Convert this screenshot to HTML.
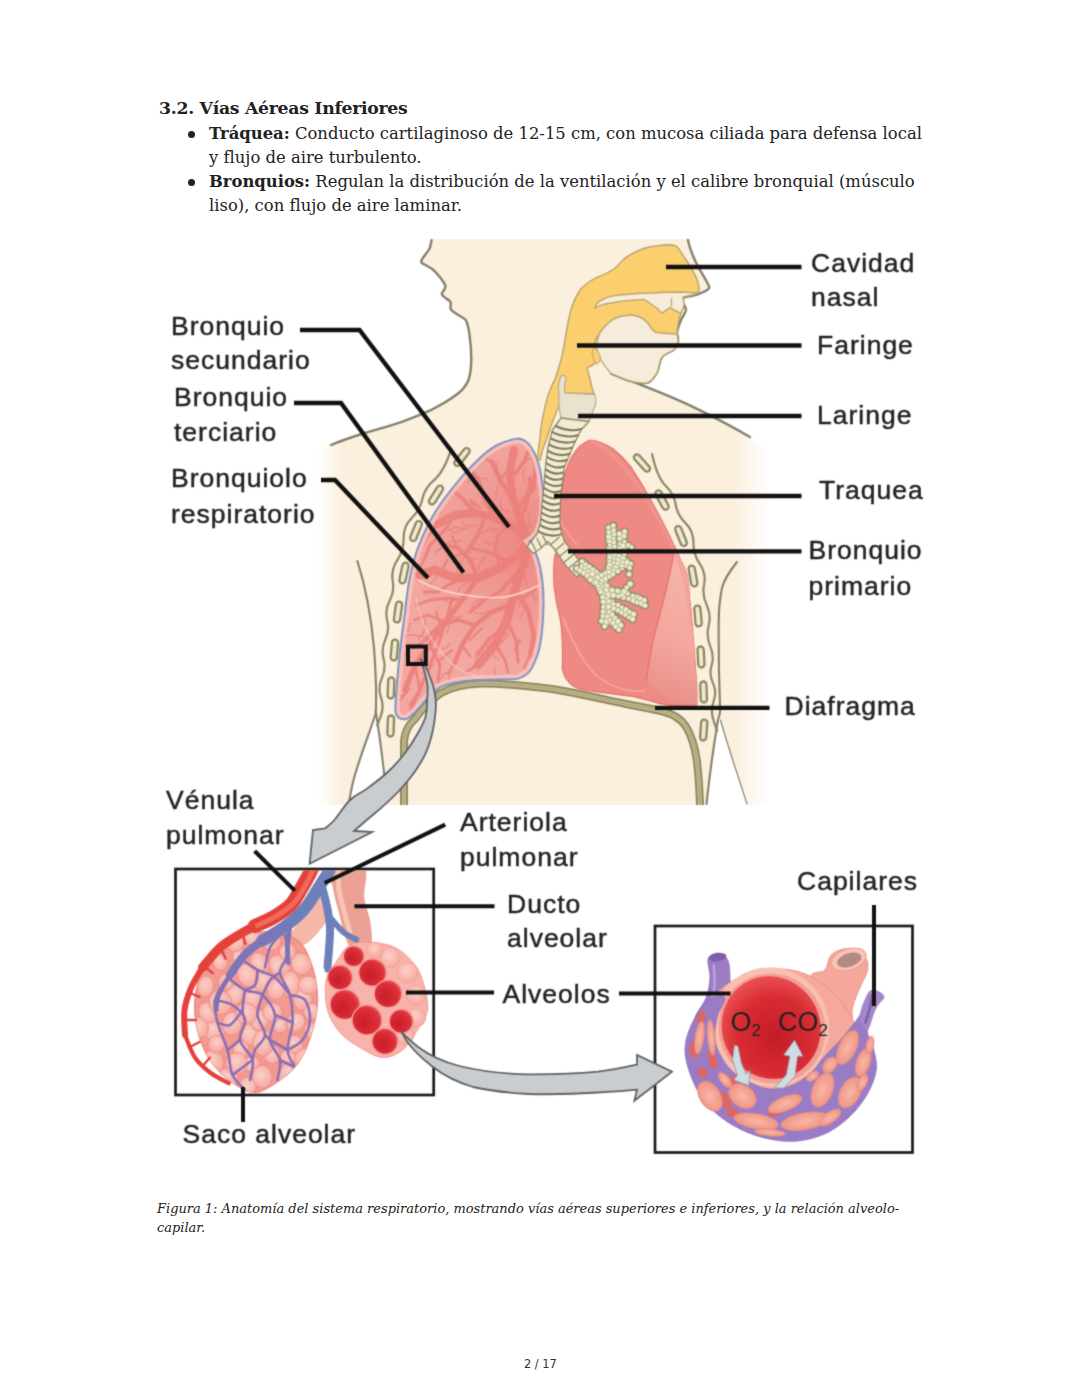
<!DOCTYPE html>
<html lang="es">
<head>
<meta charset="utf-8">
<title>3.2. Vías Aéreas Inferiores</title>
<style>
html,body{margin:0;padding:0;background:#fff;}
body{width:1080px;height:1397px;position:relative;overflow:hidden;font-family:"DejaVu Serif","Liberation Serif",serif;color:#222;}
.t{position:absolute;white-space:nowrap;margin:0;}
h2.t{font-size:17.3px;font-weight:bold;left:159px;top:96px;line-height:24px;letter-spacing:-0.3px;}
.li{font-size:16.4px;line-height:24px;}
.bul{position:absolute;width:7px;height:7px;border-radius:50%;background:#222;}
.cap{font-size:12.97px;font-style:italic;line-height:19px;}
.pn{font-family:"DejaVu Sans","Liberation Sans",sans-serif;font-size:11.4px;color:#333;}
#fig{position:absolute;left:0;top:0;}
#fig text{font-family:"Liberation Sans",sans-serif;fill:#222;}
</style>
</head>
<body>
<h2 class="t">3.2. Vías Aéreas Inferiores</h2>
<span class="bul" style="left:188.3px;top:130.8px"></span>
<p class="t li" style="left:209px;top:122px"><b>Tráquea:</b> Conducto cartilaginoso de 12-15 cm, con mucosa ciliada para defensa local</p>
<p class="t li" style="left:209px;top:146px">y flujo de aire turbulento.</p>
<span class="bul" style="left:188.3px;top:178.6px"></span>
<p class="t li" style="left:209px;top:170px"><b>Bronquios:</b> Regulan la distribución de la ventilación y el calibre bronquial (músculo</p>
<p class="t li" style="left:209px;top:194px">liso), con flujo de aire laminar.</p>

<svg id="fig" width="1080" height="1397" viewBox="0 0 1080 1397">
<defs>
<linearGradient id="gBody" gradientUnits="userSpaceOnUse" x1="318" y1="0" x2="770" y2="0">
<stop offset="0" stop-color="#ffffff"/><stop offset="0.055" stop-color="#fbefde"/><stop offset="0.92" stop-color="#fbefde"/><stop offset="1" stop-color="#ffffff"/>
</linearGradient>
<filter id="fBlur" x="0" y="0" width="1080" height="1397" filterUnits="userSpaceOnUse" color-interpolation-filters="sRGB"><feConvolveMatrix order="3" kernelMatrix="1 4 1 4 16 4 1 4 1" divisor="36" edgeMode="duplicate" preserveAlpha="false"/></filter>
</defs>
<g filter="url(#fBlur)">
<!--BODY-->
<g id="body">
<!-- beige body silhouette with faded sides -->
<path fill="url(#gBody)" d="M431.5,239 C431,243 430.5,246 429.6,248.5 C427,253 423,257 421.3,260.6 C421,263 422.5,264 424,264.3 C427,266 430.5,267.5 433.3,269.8 C438,274.5 443,280 445.4,285.6 C446,289 442.5,291 441.7,293.9 C443,297.5 448,299 450,301.3 C452,304 449.5,307 450.9,309.6 C454.5,314 461.5,316 465.7,319.8 C468,324 468.7,329 469.4,333.7 C470.6,342 471.3,351 471.3,359.6 C471.2,367 470.5,374 468.5,380 C466,386 462,390.5 457.4,394 C449,400.5 439,406 429.6,410.7 C420,415 411,418.5 401.9,421.9 C390,426 377,429.5 364.8,433 C352,437 340,441.5 327.8,446 L314,451 V805 H776 V452 L761.5,445 C757,442 753,439.5 750,437 C733,427 714,417 695,407.8 C667,394 639,384 611,373.3 C618,376.5 626,380 633,381.7 C638,383 643.5,383.6 648,382.6 C652.5,380 655.5,375.5 657.4,371.5 C659,367 659.5,362.5 661,358.5 C663.5,354.5 668,352.5 672,351 C675,349.5 677.5,345 678,341 C678.5,338 677.5,335.5 677,333.7 C677,329 679.5,324.5 680.7,320.7 C682,316.5 686,313.5 686,309.6 C685.5,306 682.5,303 682.6,300 C683,297.8 685,297.2 686,296.7 C691,296 697,295.5 701,293 C705,291.5 709,290 709.4,287.4 C707,281 703,275.5 699.7,269.5 C695,261 690,251 688,240 V239 Z"/>
<!-- outlines -->
<g fill="none" stroke="#858069" stroke-width="2.4" stroke-linecap="round" stroke-linejoin="round">
<path d="M431.5,240.2 C431,243 430.5,246 429.6,248.5 C427,253 423,257 421.3,260.6 C421,263 422.5,264 424,264.3 C427,266 430.5,267.5 433.3,269.8 C438,274.5 443,280 445.4,285.6 C446,289 442.5,291 441.7,293.9 C443,297.5 448,299 450,301.3 C452,304 449.5,307 450.9,309.6 C454.5,314 461.5,316 465.7,319.8 C468,324 468.7,329 469.4,333.7 C470.6,342 471.3,351 471.3,359.6 C471.2,367 470.5,374 468.5,380 C466,386 462,390.5 457.4,394 C449,400.5 439,406 429.6,410.7 C420,415 411,418.5 401.9,421.9 C390,426 377,429.5 364.8,433 C352,437 342,440.5 331,445"/>
<path d="M688,240 C690,251 695,261 699.7,269.5 C703,275.5 707,281 709.4,287.4 C709,290 705,291.5 701,293 C697,295.5 691,296 686,296.7 C685,297.2 683,297.8 682.6,300 C682.5,303 685.5,306 686,309.6 C686,313.5 682,316.5 680.7,320.7 C679.5,324.5 677,329 677,333.7 C677.5,335.5 678.5,338 678,341 C677.5,345 675,349.5 672,351 C668,352.5 663.5,354.5 661,358.5 C659.5,362.5 659,367 657.4,371.5 C655.5,375.5 652.5,380 648,382.6 C643.5,383.6 638,383 633,381.7 C626,380 618,376.5 611,373.3 C639,384 667,394 695,407.8 C714,417 733,427 750,437"/>
</g>
</g>

<!--/BODY-->
<!--ANATOMY-->
<g id="anat">
<!-- arm/side lines and white gaps -->
<path d="M375.6,712 C368,735 358,760 353,780 C351,790 349.5,798 349,805 H386 C387.5,795 387,785 386.4,775.6 C385,760 382.5,745 380,733 Z" fill="#fff"/>
<path d="M718,715 L706,805 H748 C740,780 728,745 718,715 Z" fill="#fff"/>
<g fill="none" stroke="#858069" stroke-width="2.1" stroke-linecap="round">
<path d="M357.4,561 C365,585 371,615 374,648 C376,675 376.5,700 375.6,714 C368,737 358,762 353,782 C351,791 349.5,798 349,804"/>
<path d="M375.6,711 C377,719 378,726 379,733 C381,747 383,762 384.4,775.6"/>
<path d="M737,562 C729,572 724,580 722,588 C719.5,600 718.7,612 718.7,622.6 C718.5,650 719,680 720,706 C721,712 719.5,716 718,720 C713,750 709,780 706.5,804"/>
<path d="M720.5,720 C726,740 736,770 747,804" stroke-width="1.2"/>
</g>
<!-- diaphragm band -->
<path d="M404,805 V741 C405,731 409,724 415,719 C422,709 431,700 441,693 C452,687 465,684 478,683.7 C503,683 528,686 552,689 C577,693 602,699 626,704 C639,706.5 651,708.5 663,711.5 C673,714 681,719 685.6,726 C692,736 695,748 696.7,759.6 C698.5,774 699.5,789 700,805" fill="none" stroke="#8f8960" stroke-width="8" stroke-linejoin="round"/>
<path d="M404,805 V741 C405,731 409,724 415,719 C422,709 431,700 441,693 C452,687 465,684 478,683.7 C503,683 528,686 552,689 C577,693 602,699 626,704 C639,706.5 651,708.5 663,711.5 C673,714 681,719 685.6,726 C692,736 695,748 696.7,759.6 C698.5,774 699.5,789 700,805" fill="none" stroke="#c2ba8e" stroke-width="4" stroke-linejoin="round"/>
<path d="M404,805 V741 C405,731 409,724 415,719 C422,709 431,700 441,693 C452,687 465,684 478,683.7 C503,683 528,686 552,689 C577,693 602,699 626,704 C639,706.5 651,708.5 663,711.5 C673,714 681,719 685.6,726 C692,736 695,748 696.7,759.6 C698.5,774 699.5,789 700,805" fill="none" stroke="#a59e72" stroke-width="1"/>
<!--RIBS-->
<g fill="#f1e9cd" stroke="#8e8863" stroke-width="2.3"><rect x="-3.1" y="-10.5" width="6.2" height="21" rx="3.1" transform="translate(462,457) rotate(38)"/><rect x="-3.1" y="-10.5" width="6.2" height="21" rx="3.1" transform="translate(436,495) rotate(32)"/><rect x="-3.1" y="-10.5" width="6.2" height="21" rx="3.1" transform="translate(416,531) rotate(22)"/><rect x="-3.1" y="-10.5" width="6.2" height="21" rx="3.1" transform="translate(404,573) rotate(12)"/><rect x="-3.1" y="-10.5" width="6.2" height="21" rx="3.1" transform="translate(398,612) rotate(8)"/><rect x="-3.1" y="-10.5" width="6.2" height="21" rx="3.1" transform="translate(394.4,650) rotate(5)"/><rect x="-3.1" y="-10.5" width="6.2" height="21" rx="3.1" transform="translate(391,688) rotate(2)"/><rect x="-3.1" y="-10.5" width="6.2" height="21" rx="3.1" transform="translate(390.7,726) rotate(2)"/><rect x="-3.1" y="-10.5" width="6.2" height="21" rx="3.1" transform="translate(642,463) rotate(-42)"/><rect x="-3.1" y="-10.5" width="6.2" height="21" rx="3.1" transform="translate(662,500) rotate(-28)"/><rect x="-3.1" y="-10.5" width="6.2" height="21" rx="3.1" transform="translate(681,536) rotate(-22)"/><rect x="-3.1" y="-10.5" width="6.2" height="21" rx="3.1" transform="translate(693,576) rotate(-10)"/><rect x="-3.1" y="-10.5" width="6.2" height="21" rx="3.1" transform="translate(698,616) rotate(-5)"/><rect x="-3.1" y="-10.5" width="6.2" height="21" rx="3.1" transform="translate(701,657) rotate(-3)"/><rect x="-3.1" y="-10.5" width="6.2" height="21" rx="3.1" transform="translate(703.6,692) rotate(-2)"/><rect x="-3.1" y="-10.5" width="6.2" height="21" rx="3.1" transform="translate(703.7,730) rotate(4)"/></g>
<path d="M451.4,448.7 Q443.7,472.3 434.1,480.1 Q424.6,487.8 422.4,498.9 Q420.2,510.0 411.8,518.0 Q403.5,525.9 403.6,538.0 Q403.8,550.1 397.3,560.1 Q390.8,570.2 392.7,580.8 Q394.6,591.4 389.6,600.7 Q384.6,610.1 387.2,620.2 Q389.7,630.3 385.3,639.5 Q381.0,648.8 383.6,658.7 Q386.2,668.6 381.9,678.1 Q377.5,687.5 380.9,697.2 Q384.4,706.8 380.8,716.2 L377.2,725.5" fill="none" stroke="#8e8863" stroke-width="2.2" stroke-linecap="round"/>
<path d="M652.0,454.0 Q657.3,477.8 665.6,485.7 Q673.9,493.7 675.7,504.5 Q677.4,515.3 685.5,523.1 Q693.5,530.9 693.4,542.6 Q693.2,554.2 699.8,563.9 Q706.3,573.7 704.1,584.4 Q701.9,595.2 706.7,605.0 Q711.4,614.8 708.7,625.4 Q706.0,636.0 710.2,646.2 Q714.5,656.3 711.6,665.3 Q708.8,674.2 712.9,682.9 Q717.1,691.5 713.6,701.3 Q710.1,711.1 713.7,721.0 L717.2,730.9" fill="none" stroke="#8e8863" stroke-width="2.2" stroke-linecap="round"/>
<!--/RIBS-->
<!--LUNGS-->
<defs>
<clipPath id="cpRL"><path id="pRL" d="M518.8,438.6 C511,439.5 504,441.5 497.3,445 C489,449.5 482,455.5 475.9,462 C468,469.5 461,477.5 454.4,485.8 C446,495.5 439,505.5 432.9,515.9 C427,526 422,537 417.9,548 C414,558.5 411.5,569 409.3,580 C407.5,591 406,601.5 405,612.4 C403.5,623 402,634 400.7,644.6 C399.5,655 398.5,666 397.5,676.8 C396.5,687.5 395.6,698 395.4,709 C395.3,713 396.5,716 398.6,717.6 C401.5,719.3 404.5,719.5 407.2,718.7 C412,716 416,711.5 420,706.9 C426,699.5 432.5,693 439.4,687.6 C450,682.5 463,680.6 475.9,680 C489,679.3 503,679.5 516.6,679 C523.5,677.5 528.5,673.5 531.7,668.2 C535.5,661 538.5,653 540.2,644.6 C542.5,630.5 543.5,616 543.5,601.7 C543.6,590 542.5,578.5 540.2,567.4 C538,557.5 534.5,548.5 529.5,541.6 C533,539.5 536,536.5 538.1,533 C541,526.5 542.8,519 543.5,511.6 C544.2,502.5 543.8,493 542.4,483.7 C541.5,476 540.2,469 538.1,462.2 C536,455.5 533,449.5 529.5,445 C526.5,441.5 523,439.3 518.8,438.6 Z"/></clipPath>
<clipPath id="cpLL"><path id="pLL" d="M590,440 C583,443 578,447 575,452 C570.5,458 568,464 566,470 C564,475.5 563,480.5 562.6,485.6 C561,492 560.3,499 560,505 C559.7,511 559.7,517 559.8,522.6 C560,527 561,531 561.7,533.7 C561,540 558.5,546 556.5,551 C555,554 554.5,557 554.3,560 C553.5,569.5 553.5,579 554.3,588 C555.5,598.5 557.5,608.5 560,618 C561.5,627 562.2,636.5 562.4,645.7 C562.6,653.5 562.5,661.5 562.4,669 C563.5,674.5 566,679.5 569.4,682.8 C573,686.5 578,688.7 583,689.7 C600,692.5 617,694.5 634,696.7 C642.5,698.5 651,701 659.6,703.6 C672,706 684.5,706.5 696.7,706 C697.5,694 696.8,681.5 695.5,669 C694.5,653.5 693.3,638 692,622.6 C691.5,614.5 690.7,607 689.7,599.4 C689.3,591.5 688.5,583.5 687.4,576 C685.5,570 683.3,564.5 680.5,560 C678.5,555 676.3,549.5 673.7,544.8 C667.5,531 660.5,517.5 653,504 C646.5,491.5 639,479 631,467 C625.5,460 619.5,454 612.6,448.5 C606,444 598.5,441 590,440 Z"/></clipPath>
<linearGradient id="gLLobe" gradientUnits="userSpaceOnUse" x1="700" y1="570" x2="640" y2="700">
<stop offset="0" stop-color="#f6b4aa"/><stop offset="0.55" stop-color="#f3a69e"/><stop offset="1" stop-color="#e68c86"/>
</linearGradient>
<radialGradient id="gHil" gradientUnits="userSpaceOnUse" cx="525" cy="545" r="125"><stop offset="0" stop-color="#e8706c" stop-opacity="0.6"/><stop offset="0.5" stop-color="#ea7a76" stop-opacity="0.3"/><stop offset="1" stop-color="#ee8a86" stop-opacity="0"/></radialGradient>
</defs>
<!-- left lung (viewer right) -->
<use href="#pLL" fill="#ee8a83" stroke="#e2706c" stroke-width="1.2"/>
<g clip-path="url(#cpLL)">
<path d="M673.5,555 C668,585 660,615 653,640 C650,655 648,668 646,680 C652,692 670,702 700,708 V540 Z" fill="url(#gLLobe)"/>
<path d="M673.5,555 C668,585 660,615 653,640 C650,655 648,668 646,680" fill="none" stroke="#e8706c" stroke-width="1.3"/>
<path d="M563,618 C572,640 582,662 596,675 C612,688 632,694 646,690" fill="none" stroke="#f6a8a0" stroke-width="1.5"/>
<path d="M560,520 C566,532 570,538 578,545" fill="none" stroke="#f6a8a0" stroke-width="1.2"/>
<path d="M590,440 C612,450 640,478 672,545 C685,570 690,600 692,625" fill="none" stroke="#f29a92" stroke-width="4" opacity="0.6"/>
</g>
<!-- right lung (viewer left) -->
<use href="#pRL" fill="#f2a8a1"/>
<use href="#pRL" fill="url(#gHil)"/>
<g clip-path="url(#cpRL)">
<g fill="none" stroke="#ec807a" stroke-linecap="round" stroke-linejoin="round" opacity="0.9">
<path d="M529,542 L520,520 L512,495 L510,470 L514,450" stroke-width="7.9"/>
<path d="M513,500 L500,480 L492,462" stroke-width="4.7"/>
<path d="M511,478 L524,462 L528,452" stroke-width="3.9"/>
<path d="M516,510 L532,490 L536,470" stroke-width="4.7"/>
<path d="M529,542 L515,528 L495,518 L475,513 L455,515 L438,524" stroke-width="7.9"/>
<path d="M495,518 L485,500 L478,480 L470,470" stroke-width="4.7"/>
<path d="M475,513 L462,498 L452,490" stroke-width="3.9"/>
<path d="M485,516 L478,535 L468,550" stroke-width="3.9"/>
<path d="M455,515 L445,530 L430,545 L424,560" stroke-width="3.1"/>
<path d="M529,542 L518,556 L500,568 L478,578 L455,578 L435,570 L420,575" stroke-width="8.8"/>
<path d="M478,578 L470,560 L458,548 L445,545" stroke-width="3.9"/>
<path d="M500,568 L495,550 L498,535" stroke-width="3.1"/>
<path d="M529,542 L524,562 L515,590 L507,620 L495,645 L478,665" stroke-width="8.8"/>
<path d="M515,590 L528,610 L534,635 L530,655" stroke-width="4.7"/>
<path d="M507,620 L516,640 L518,662" stroke-width="3.1"/>
<path d="M510,605 L492,612 L475,625 L462,645 L455,662" stroke-width="4.7"/>
<path d="M475,625 L458,620 L440,625 L425,640" stroke-width="3.9"/>
<path d="M495,645 L505,660 L508,672" stroke-width="2.8"/>
<path d="M478,578 L462,600 L445,622 L430,645 L415,665 L405,690" stroke-width="5.4"/>
<path d="M445,622 L428,615 L414,620" stroke-width="2.8"/>
<path d="M430,645 L440,665 L438,682" stroke-width="2.8"/>
<path d="M415,665 L420,690 L412,708" stroke-width="2.8"/>
<path d="M462,600 L448,598 L430,600 L416,605" stroke-width="2.8"/>
<path d="M470,470 L462,476 M492,462 L484,458 M452,490 L446,500 M468,550 L456,556 M424,560 L418,572 M445,545 L436,552 M455,662 L448,674 M425,640 L414,648 M478,665 L466,672 M530,655 L524,668 M536,470 L532,458 M498,535 L506,528 M462,645 L470,656 M440,625 L436,612 M458,548 L452,536" stroke-width="2.2"/>

<path d="M520,520 L528,500 L530,478" stroke-width="3.5"/>
<path d="M505,560 L488,552 L470,548" stroke-width="3.2"/>
<path d="M515,575 L500,592 L484,600 L470,612" stroke-width="3.5"/>
<path d="M520,600 L535,590" stroke-width="3"/>
<path d="M500,630 L486,642 L478,655" stroke-width="3"/>
<path d="M438,524 L428,535 L420,550" stroke-width="3"/>
<path d="M460,580 L448,585 L438,592 L424,592" stroke-width="3"/>
<path d="M452,600 L440,640 L432,660 L420,690 L410,705" stroke-width="3"/>
<path d="M470,640 L482,628 M447,560 L440,575 M500,480 L508,470 M470,500 L480,508 M440,660 L452,650 M470,670 L480,660 M515,650 L520,640 M400,700 L408,690" stroke-width="2.4"/>
</g>
<!--TWIGS--><path d="M487.7,643.1 L476.2,651.8 L475.5,659.8 M509.7,511.5 L502.5,510.0 L499.9,506.9 M433.5,590.2 L427.7,592.2 L425.9,595.0 M424.2,676.6 L418.5,688.1 L419.1,695.2 M486.9,478.8 L473.1,477.6 L467.4,482.7 M536.3,489.3 L532.3,481.4 L527.8,479.5 M495.6,499.7 L497.1,487.6 L501.7,482.6 M450.0,489.3 L443.4,489.6 L440.9,487.1 M482.4,604.1 L476.8,607.6 L473.3,606.6 M467.2,529.3 L455.1,527.2 L448.9,530.1 M533.2,698.4 L535.9,707.7 L534.0,712.7 M481.3,447.4 L474.0,445.3 L469.9,446.3 M433.4,663.8 L427.5,672.6 L421.7,673.5 M413.6,644.8 L400.1,647.5 L395.2,653.2 M538.9,500.7 L541.2,491.7 L539.4,487.0 M531.1,590.6 L534.4,598.8 L538.9,600.5 M488.3,637.5 L487.6,647.9 L490.2,652.9 M484.5,691.6 L491.2,702.4 L489.2,709.1 M463.6,557.6 L456.3,569.9 L458.5,577.4 M446.1,500.3 L443.5,489.5 L438.4,486.2 M511.5,473.5 L508.8,466.6 L509.8,462.7 M463.3,711.8 L450.8,719.8 L443.1,717.2 M497.2,529.8 L487.0,530.2 L482.3,533.4 M516.4,587.0 L520.7,600.8 L518.6,608.4 M468.8,582.6 L459.6,587.7 L458.2,593.3 M509.6,630.5 L503.3,641.7 L496.6,644.0 M494.2,668.0 L496.5,682.7 L491.1,688.7 M447.0,492.7 L443.0,483.2 L444.3,477.7 M437.4,522.1 L425.6,519.6 L421.3,514.6 M490.7,642.0 L483.3,647.3 L482.7,652.3 M497.1,705.6 L488.1,711.3 L485.6,716.6 M450.1,673.0 L449.1,679.6 L446.7,682.4 M510.4,600.1 L504.8,608.1 L499.5,609.1 M402.0,487.7 L390.6,484.2 L384.9,487.4 M424.0,636.8 L409.3,634.7 L401.8,637.8 M417.2,529.7 L410.3,533.2 L408.5,537.0 M448.6,621.9 L448.4,629.7 L446.3,633.5 M456.4,519.4 L449.4,518.4 L447.4,515.1 M477.2,525.5 L466.6,526.1 L462.6,521.8 M515.9,556.9 L504.6,560.2 L498.6,557.7 M420.6,547.2 L412.8,547.9 L409.9,551.1 M448.6,683.6 L451.2,690.0 L454.4,692.1 M524.2,595.7 L524.8,610.4 L520.3,617.3 M538.0,546.4 L542.1,560.0 L538.3,566.9 M441.3,512.0 L428.8,519.4 L421.0,518.2 M439.2,572.3 L433.0,582.1 L427.2,584.7 M403.8,481.4 L393.8,478.8 L390.0,474.5 M466.3,454.8 L458.2,443.9 L458.0,436.4 M485.6,571.7 L474.8,575.5 L470.6,580.2 M416.1,520.4 L406.4,514.2 L400.1,515.0 M450.0,643.9 L445.4,648.2 L441.9,648.3 M496.7,473.7 L495.9,466.1 L498.7,462.8 M459.6,598.7 L448.5,602.3 L442.9,599.0 M519.1,572.0 L511.6,582.0 L505.0,583.6 M507.2,526.1 L494.6,529.5 L488.3,526.1 M466.0,528.0 L454.7,532.6 L448.8,529.3 M475.5,558.6 L469.2,560.1 L466.8,562.7 M410.3,461.8 L408.7,452.9 L411.9,449.2 M541.8,632.2 L552.8,640.1 L560.2,639.2 M516.7,474.7 L524.3,461.8 L531.6,458.0 M485.9,555.5 L478.8,564.7 L479.3,571.1 M493.1,644.1 L493.7,655.2 L498.3,659.2 M524.5,480.9 L522.8,472.2 L525.1,467.9 M533.1,544.9 L545.2,542.6 L549.3,537.3 M495.6,522.5 L493.0,511.9 L488.4,507.9 M477.4,512.9 L471.4,504.1 L465.6,503.3 M522.3,566.0 L521.8,573.2 L524.4,576.2 M410.3,623.3 L408.6,630.3 L405.7,632.9 M524.3,573.3 L526.5,586.3 L532.1,590.9 M453.4,671.5 L443.8,673.8 L441.1,678.5 M410.1,688.3 L405.2,694.6 L401.0,695.7 M431.8,534.0 L423.1,531.4 L420.1,527.3 M502.1,540.7 L491.0,544.3 L485.0,541.9 M483.3,598.1 L474.8,602.3 L471.8,606.6 M424.8,497.2 L411.5,491.8 L406.5,485.6 M465.7,682.6 L459.8,690.5 L454.6,691.8 M425.6,619.4 L423.4,633.1 L418.4,638.8 M434.6,519.1 L426.6,522.2 L423.6,525.8 M527.1,536.9 L527.9,528.1 L524.8,524.3 M495.0,571.0 L488.0,570.3 L485.1,567.7 M495.1,639.7 L497.2,647.2 L500.8,649.6 M492.5,609.9 L480.9,614.0 L474.3,612.4 M450.1,462.9 L451.1,452.7 L448.6,447.7 M428.1,456.7 L420.2,446.9 L419.1,440.1 M406.8,653.1 L402.8,658.1 L399.3,658.2 M501.2,508.3 L500.2,501.5 L501.6,498.0 M433.1,458.5 L427.4,455.2 L426.7,451.6 M462.2,616.0 L447.8,618.4 L441.9,623.7 M471.2,552.4 L464.5,553.3 L461.7,550.9 M410.5,708.0 L410.4,714.7 L412.9,717.4 M461.5,540.5 L448.7,542.0 L444.3,547.6 M529.5,527.1 L528.7,513.7 L523.5,508.5 M418.0,574.0 L409.8,572.2 L406.8,568.7 M416.7,466.9 L410.0,466.0 L408.0,462.9 M493.9,518.6 L487.0,514.2 L482.6,515.3" fill="none" stroke="#e9807b" stroke-width="1.5" stroke-linecap="round" stroke-linejoin="round" opacity="0.75"/><!--/TWIGS-->
<path d="M418,580 C432,588 448,593 465,595 C478,597 490,598 501.6,597.4 C515,596 528,591 541,584.5" fill="none" stroke="#fbd5cf" stroke-width="1.6"/>
<path d="M415.8,597 C418,610 422,622 428.6,634 C435,646 444,657 454.4,666 C464,673 475,676.5 486.6,676.8 C497,677.5 508,677.5 518.8,676.8" fill="none" stroke="#f9c6c0" stroke-width="1.4" opacity="0.8"/>
<use href="#pRL" fill="none" stroke="#f9c3be" stroke-width="9" opacity="0.9"/>
</g>
<use href="#pRL" fill="none" stroke="#8094c2" stroke-width="2"/>

<!--/LUNGS-->
<!--AIRWAY-->
<path d="M669.6,244.8 C673,245 675.5,245.5 677,246.7 C680,250 682.5,254 684.4,257.8 C688,262.5 691,267.5 693.7,272.6 C696.5,277.5 698.5,282.5 699,287.4 C699.5,290 698.8,292 697.4,293 C692,295.5 687,296 683,297 C683,300 684.5,302.5 684,305 C683.5,308 682,310.5 681,313 C679.5,317 678.5,321 678,325 C677.5,328 677,331 677,334 C674.5,334.2 672,334 669.6,333.7 C664.5,333.5 659.5,333.2 654.8,331.9 C651.5,329.5 649.5,326 647.4,322.6 C643.5,318.5 638,316 632.6,315.2 C626,315 619.5,316.5 614,318.9 C608,322.5 603,328 599.3,333.7 C596,338 594.5,343 594,347 C595.5,349 597,350.5 596,353 C596.5,356.5 596.8,360 595.5,362.5 C593,366 590,366.5 587,367.8 C589,375 591,383 592.6,390 L594.4,393.7 L565,393 C561.5,400 558,407 555.6,414 C552,422.5 549,431 546.3,440 C543.5,446.5 541.5,452.5 540,460 L537.5,460 C537.8,453 538.8,446.5 539.8,440 C540.3,432.5 541.2,425 542.6,417.8 C544,410.5 545.8,403 548,395.6 C550.3,389 552.8,383 554.8,380 C557.5,372 560,364 562,356 C563.5,348.5 565,341 566,333.7 C567.5,325 569.3,316 571.5,307.8 C573.8,301 577,294.5 580.7,289 C585,284.5 590,281 595.6,278 C602,275.5 608.5,272.5 614,269 C617.5,266 620.5,262.8 623.3,259.6 C629.5,254.5 636.5,251 643.7,248.5 C652,246.3 661,245.2 669.6,244.8 Z" fill="#fbcf6d" stroke="#b9a36f" stroke-width="1.4" stroke-linejoin="round"/>
<path d="M594.6,307.8 C596,304.5 598,302 601,300.4 C605,298 609.5,296.5 614,295.7 C626,294 638.5,293.3 651,293 C661,292.5 671,292 680.7,292 L697.4,293 C692,295.5 687,296 683,297 C683,300 684.5,302.5 684,305 C683.5,308 682,310.5 681,313 C677,312 673.5,309.5 669.6,307.8 C667,309.5 664.5,311.5 662,313.3 L658.5,309.6 C656,307.5 653.5,305.8 651,304 C648.5,302 646,300.3 643.7,299.4 C630.5,300 617.5,301.5 604.8,304 C601.5,305 598,306.5 594.6,307.8 Z" fill="#f7ecd9" stroke="#b9a36f" stroke-width="1.3" stroke-linejoin="round"/>
<path d="M671.5,298 V307" stroke="#b9a36f" stroke-width="1.2" fill="none"/>
<path d="M599.3,333.7 C603,328 608,322.5 614,318.9 C619.5,316.5 626,315 632.6,315.2 C638,316 643.5,318.5 647.4,322.6 C649.5,326 651.5,329.5 654.8,331.9 C659.5,333.2 664.5,333.5 669.6,333.7 C672,334 674.5,334.2 677,334 C677.5,336 678.3,338.5 678,341 C677.5,345 675,349.5 672,351 C668,352.5 663.5,354.5 661,358.5 C659.5,362.5 659,367 657.4,371.5 C655.5,375.5 652.5,380 648,382.6 C643.5,383.6 638,383 633,381.7 C626,380 618,376.5 611,373.3 C606,368 601,361 598,354 C596,348 597,340 599.3,333.7 Z" fill="#f6ecdb" stroke="#b9a36f" stroke-width="1.2" stroke-linejoin="round"/>
<path d="M594,347 C597,350 600,354 600.5,358 C600.5,361.5 598.5,363.5 596,364 C594,361 593,357 592,353 Z" fill="#fbcf6d" stroke="#b9a36f" stroke-width="1"/>
<path d="M561,376 C564,374.5 566.5,376 566,379 C564.5,383 564,388 565,393 L594.4,394.5 C596,398 596.5,402 595,406 C593,411 591,416 589,421.5 C580,423 570,421.5 561,417.8 C559,410 558.3,402 559,393.7 C558,388 558.5,381 561,376 Z" fill="#e9e2cf" stroke="#b5ad8c" stroke-width="1.2"/>
<path d="M570,423 C574,425.5 579,425.5 583,423.5" stroke="#8f8b68" stroke-width="2.4" fill="none" stroke-linecap="round"/>
<path d="M561,418 L552.4,430 L547.8,448.5 L545.5,467 L544,485.6 L542,505 L540.4,522.6 L537.5,533 L531,541.5 L527,546.5 L533,553.5 L540,549 L547.8,541.5 L556,551 L566,566 L577,577 L584.8,568.9 L575,555 L564.4,541 L561.5,533 L559.8,522.6 L560.7,494.8 L564.4,467 L573.7,444.8 L581,430 L589,421.5 Z" fill="#f1ecd3" stroke="#8f8b68" stroke-width="1.3" stroke-linejoin="round"/>
<path d="M555.8,426.0 Q568.6,432.5 581.4,429.0 M552.4,432.2 Q565.1,438.7 577.9,435.2 M550.8,438.4 Q562.8,444.9 574.9,441.4 M549.3,444.6 Q560.6,451.1 572.0,447.6 M548.0,450.8 Q558.7,457.3 569.4,453.8 M547.2,457.0 Q557.0,463.5 566.8,460.0 M546.5,463.2 Q555.4,469.7 564.2,466.2 M545.8,469.4 Q554.5,475.9 563.2,472.4 M545.3,475.6 Q553.8,482.1 562.4,478.6 M544.8,481.8 Q553.2,488.3 561.5,484.8 M544.3,488.0 Q552.5,494.5 560.7,491.0 M543.6,494.2 Q551.9,500.7 560.1,497.2 M543.0,500.4 Q551.4,506.9 559.9,503.4 M542.4,506.6 Q551.0,513.1 559.7,509.6 M541.8,512.8 Q550.7,519.3 559.5,515.8 M541.2,519.0 Q550.3,525.5 559.3,522.0 M540.2,525.2 Q550.2,531.7 560.2,528.2 M538.4,531.4 Q549.7,537.9 561.0,534.4" fill="none" stroke="#7d7a58" stroke-width="2" stroke-linecap="round"/>
<path d="M550.0,545.0 l9,-7.5 M554.8,550.8 l9,-7.5 M559.5,556.5 l9,-7.5 M564.2,562.2 l9,-7.5 M569.0,568.0 l9,-7.5 M543.0,536.0 l4.5,9 M537.0,538.5 l4.5,9 M531.0,541.0 l4.5,9" fill="none" stroke="#8f8b68" stroke-width="1.4" stroke-linecap="round"/>
<g fill="#8f8b66"><circle cx="582.1" cy="561.5" r="3.9"/><circle cx="581.7" cy="566.3" r="3.7"/><circle cx="576.7" cy="568.4" r="3.9"/><circle cx="585.6" cy="564.6" r="4.0"/><circle cx="585.4" cy="568.8" r="4.1"/><circle cx="580.3" cy="570.9" r="4.2"/><circle cx="589.3" cy="567.0" r="4.1"/><circle cx="588.1" cy="571.8" r="4.1"/><circle cx="583.9" cy="573.0" r="4.2"/><circle cx="592.9" cy="569.9" r="4.2"/><circle cx="592.1" cy="574.8" r="3.9"/><circle cx="587.7" cy="575.9" r="4.3"/><circle cx="596.4" cy="572.0" r="3.8"/><circle cx="594.7" cy="577.5" r="4.0"/><circle cx="590.6" cy="578.5" r="4.0"/><circle cx="599.0" cy="574.9" r="4.1"/><circle cx="598.2" cy="580.1" r="4.1"/><circle cx="594.0" cy="581.7" r="4.3"/><circle cx="603.3" cy="578.5" r="4.2"/><circle cx="601.0" cy="583.3" r="4.0"/><circle cx="596.0" cy="582.7" r="4.2"/><circle cx="605.1" cy="582.1" r="3.7"/><circle cx="602.8" cy="586.9" r="3.8"/><circle cx="598.0" cy="586.3" r="3.8"/><circle cx="606.8" cy="586.1" r="4.2"/><circle cx="604.0" cy="590.0" r="3.7"/><circle cx="599.8" cy="589.7" r="4.2"/><circle cx="609.8" cy="590.4" r="4.3"/><circle cx="605.5" cy="593.2" r="4.1"/><circle cx="600.7" cy="592.0" r="3.9"/><circle cx="610.6" cy="595.3" r="3.7"/><circle cx="607.3" cy="598.6" r="4.3"/><circle cx="602.7" cy="597.3" r="4.0"/><circle cx="611.8" cy="601.9" r="4.1"/><circle cx="607.6" cy="604.2" r="4.3"/><circle cx="603.4" cy="601.7" r="4.1"/><circle cx="611.5" cy="606.8" r="4.3"/><circle cx="607.6" cy="609.3" r="3.7"/><circle cx="603.3" cy="607.0" r="3.7"/><circle cx="611.8" cy="612.8" r="3.7"/><circle cx="607.4" cy="614.4" r="4.1"/><circle cx="603.2" cy="611.9" r="4.1"/><circle cx="610.7" cy="616.9" r="4.1"/><circle cx="607.1" cy="618.8" r="4.0"/><circle cx="602.9" cy="616.1" r="3.9"/><circle cx="610.4" cy="621.8" r="4.1"/><circle cx="605.9" cy="623.6" r="4.2"/><circle cx="601.7" cy="621.0" r="4.1"/><circle cx="598.0" cy="577.6" r="4.2"/><circle cx="602.4" cy="580.1" r="4.0"/><circle cx="601.8" cy="575.1" r="3.9"/><circle cx="605.9" cy="578.4" r="4.0"/><circle cx="605.5" cy="572.9" r="3.9"/><circle cx="609.7" cy="576.2" r="4.0"/><circle cx="608.4" cy="570.5" r="4.0"/><circle cx="612.7" cy="573.9" r="4.2"/><circle cx="613.0" cy="567.8" r="4.2"/><circle cx="617.8" cy="571.0" r="3.9"/><circle cx="617.6" cy="564.8" r="4.2"/><circle cx="622.0" cy="567.7" r="4.0"/><circle cx="621.9" cy="562.6" r="4.3"/><circle cx="626.0" cy="565.1" r="4.3"/><circle cx="626.5" cy="560.9" r="4.0"/><circle cx="630.8" cy="563.7" r="3.8"/><circle cx="609.0" cy="571.8" r="4.1"/><circle cx="613.6" cy="569.4" r="3.9"/><circle cx="608.8" cy="567.1" r="4.1"/><circle cx="613.7" cy="566.1" r="3.7"/><circle cx="609.9" cy="563.9" r="4.3"/><circle cx="614.7" cy="562.3" r="4.0"/><circle cx="609.4" cy="560.3" r="3.8"/><circle cx="614.3" cy="558.0" r="4.0"/><circle cx="609.8" cy="556.7" r="4.1"/><circle cx="614.3" cy="553.7" r="4.2"/><circle cx="609.9" cy="552.7" r="3.9"/><circle cx="614.2" cy="550.1" r="4.2"/><circle cx="609.6" cy="548.9" r="4.3"/><circle cx="614.6" cy="546.4" r="3.7"/><circle cx="609.8" cy="545.2" r="3.7"/><circle cx="613.9" cy="542.0" r="4.0"/><circle cx="609.3" cy="540.9" r="4.2"/><circle cx="613.4" cy="537.9" r="3.8"/><circle cx="608.8" cy="536.6" r="4.3"/><circle cx="614.0" cy="534.1" r="4.0"/><circle cx="608.8" cy="532.2" r="3.9"/><circle cx="613.6" cy="530.0" r="3.9"/><circle cx="608.4" cy="527.6" r="3.8"/><circle cx="613.3" cy="525.5" r="3.9"/><circle cx="616.4" cy="566.3" r="3.9"/><circle cx="621.9" cy="565.5" r="3.9"/><circle cx="617.9" cy="562.9" r="4.0"/><circle cx="622.5" cy="561.4" r="4.1"/><circle cx="618.3" cy="559.1" r="4.0"/><circle cx="623.1" cy="557.6" r="4.1"/><circle cx="618.7" cy="555.2" r="4.0"/><circle cx="624.3" cy="553.8" r="3.9"/><circle cx="619.9" cy="551.7" r="3.9"/><circle cx="624.3" cy="549.2" r="4.2"/><circle cx="620.1" cy="547.9" r="4.2"/><circle cx="624.9" cy="545.9" r="4.0"/><circle cx="619.9" cy="544.1" r="3.7"/><circle cx="624.4" cy="541.8" r="3.7"/><circle cx="619.7" cy="538.4" r="4.2"/><circle cx="624.2" cy="535.8" r="4.2"/><circle cx="619.5" cy="533.9" r="4.1"/><circle cx="624.7" cy="531.5" r="4.0"/><circle cx="622.9" cy="545.7" r="4.2"/><circle cx="628.4" cy="545.3" r="3.8"/><circle cx="631.6" cy="547.1" r="3.7"/><circle cx="627.0" cy="562.5" r="4.2"/><circle cx="629.7" cy="567.9" r="3.8"/><circle cx="629.2" cy="574.2" r="3.9"/><circle cx="606.4" cy="590.1" r="3.9"/><circle cx="608.5" cy="594.5" r="4.0"/><circle cx="612.2" cy="590.3" r="4.1"/><circle cx="613.5" cy="595.3" r="4.2"/><circle cx="617.6" cy="590.8" r="4.0"/><circle cx="618.5" cy="596.2" r="3.8"/><circle cx="622.2" cy="592.5" r="4.2"/><circle cx="623.6" cy="597.3" r="4.1"/><circle cx="627.7" cy="593.6" r="3.8"/><circle cx="628.7" cy="598.7" r="3.8"/><circle cx="632.9" cy="596.0" r="3.9"/><circle cx="633.4" cy="600.6" r="4.2"/><circle cx="637.4" cy="597.1" r="3.8"/><circle cx="637.3" cy="602.4" r="3.9"/><circle cx="640.5" cy="598.6" r="3.9"/><circle cx="641.5" cy="603.5" r="4.3"/><circle cx="644.3" cy="600.2" r="4.0"/><circle cx="645.0" cy="605.5" r="4.0"/><circle cx="622.6" cy="594.6" r="4.2"/><circle cx="624.6" cy="591.3" r="4.3"/><circle cx="626.7" cy="587.6" r="3.8"/><circle cx="630.2" cy="583.9" r="4.3"/><circle cx="608.7" cy="601.7" r="3.8"/><circle cx="608.7" cy="606.7" r="4.1"/><circle cx="613.3" cy="604.1" r="3.9"/><circle cx="613.9" cy="608.6" r="4.0"/><circle cx="618.0" cy="605.1" r="3.8"/><circle cx="618.2" cy="610.4" r="3.9"/><circle cx="621.9" cy="607.6" r="3.7"/><circle cx="621.8" cy="612.5" r="4.0"/><circle cx="625.9" cy="609.7" r="4.3"/><circle cx="625.4" cy="614.7" r="3.8"/><circle cx="629.4" cy="612.0" r="3.8"/><circle cx="629.4" cy="617.4" r="3.8"/><circle cx="633.6" cy="614.1" r="4.2"/><circle cx="632.7" cy="619.1" r="4.1"/><circle cx="609.5" cy="612.2" r="3.9"/><circle cx="607.5" cy="617.0" r="4.1"/><circle cx="612.2" cy="614.9" r="4.0"/><circle cx="610.0" cy="620.3" r="4.1"/><circle cx="615.1" cy="618.4" r="4.1"/><circle cx="613.3" cy="623.2" r="4.2"/><circle cx="618.1" cy="621.6" r="4.3"/><circle cx="615.7" cy="626.6" r="4.1"/><circle cx="620.9" cy="625.3" r="4.1"/><circle cx="618.9" cy="629.8" r="3.8"/><circle cx="606.0" cy="621.7" r="4.2"/><circle cx="604.6" cy="626.3" r="3.9"/><circle cx="592.3" cy="573.9" r="4.2"/><circle cx="590.2" cy="579.8" r="3.8"/></g>
<g fill="#edeacf" stroke="#a9a581" stroke-width="0.7"><circle cx="582.1" cy="561.5" r="2.6"/><circle cx="581.7" cy="566.3" r="2.4"/><circle cx="576.7" cy="568.4" r="2.6"/><circle cx="585.6" cy="564.6" r="2.7"/><circle cx="585.4" cy="568.8" r="2.8"/><circle cx="580.3" cy="570.9" r="2.9"/><circle cx="589.3" cy="567.0" r="2.8"/><circle cx="588.1" cy="571.8" r="2.8"/><circle cx="583.9" cy="573.0" r="2.9"/><circle cx="592.9" cy="569.9" r="2.9"/><circle cx="592.1" cy="574.8" r="2.6"/><circle cx="587.7" cy="575.9" r="3.0"/><circle cx="596.4" cy="572.0" r="2.5"/><circle cx="594.7" cy="577.5" r="2.7"/><circle cx="590.6" cy="578.5" r="2.7"/><circle cx="599.0" cy="574.9" r="2.8"/><circle cx="598.2" cy="580.1" r="2.8"/><circle cx="594.0" cy="581.7" r="3.0"/><circle cx="603.3" cy="578.5" r="2.9"/><circle cx="601.0" cy="583.3" r="2.7"/><circle cx="596.0" cy="582.7" r="2.9"/><circle cx="605.1" cy="582.1" r="2.4"/><circle cx="602.8" cy="586.9" r="2.5"/><circle cx="598.0" cy="586.3" r="2.5"/><circle cx="606.8" cy="586.1" r="2.9"/><circle cx="604.0" cy="590.0" r="2.4"/><circle cx="599.8" cy="589.7" r="2.9"/><circle cx="609.8" cy="590.4" r="3.0"/><circle cx="605.5" cy="593.2" r="2.8"/><circle cx="600.7" cy="592.0" r="2.6"/><circle cx="610.6" cy="595.3" r="2.4"/><circle cx="607.3" cy="598.6" r="3.0"/><circle cx="602.7" cy="597.3" r="2.7"/><circle cx="611.8" cy="601.9" r="2.8"/><circle cx="607.6" cy="604.2" r="3.0"/><circle cx="603.4" cy="601.7" r="2.8"/><circle cx="611.5" cy="606.8" r="3.0"/><circle cx="607.6" cy="609.3" r="2.4"/><circle cx="603.3" cy="607.0" r="2.4"/><circle cx="611.8" cy="612.8" r="2.4"/><circle cx="607.4" cy="614.4" r="2.8"/><circle cx="603.2" cy="611.9" r="2.8"/><circle cx="610.7" cy="616.9" r="2.8"/><circle cx="607.1" cy="618.8" r="2.7"/><circle cx="602.9" cy="616.1" r="2.6"/><circle cx="610.4" cy="621.8" r="2.8"/><circle cx="605.9" cy="623.6" r="2.9"/><circle cx="601.7" cy="621.0" r="2.8"/><circle cx="598.0" cy="577.6" r="2.9"/><circle cx="602.4" cy="580.1" r="2.7"/><circle cx="601.8" cy="575.1" r="2.6"/><circle cx="605.9" cy="578.4" r="2.7"/><circle cx="605.5" cy="572.9" r="2.6"/><circle cx="609.7" cy="576.2" r="2.7"/><circle cx="608.4" cy="570.5" r="2.7"/><circle cx="612.7" cy="573.9" r="2.9"/><circle cx="613.0" cy="567.8" r="2.9"/><circle cx="617.8" cy="571.0" r="2.6"/><circle cx="617.6" cy="564.8" r="2.9"/><circle cx="622.0" cy="567.7" r="2.7"/><circle cx="621.9" cy="562.6" r="3.0"/><circle cx="626.0" cy="565.1" r="3.0"/><circle cx="626.5" cy="560.9" r="2.7"/><circle cx="630.8" cy="563.7" r="2.5"/><circle cx="609.0" cy="571.8" r="2.8"/><circle cx="613.6" cy="569.4" r="2.6"/><circle cx="608.8" cy="567.1" r="2.8"/><circle cx="613.7" cy="566.1" r="2.4"/><circle cx="609.9" cy="563.9" r="3.0"/><circle cx="614.7" cy="562.3" r="2.7"/><circle cx="609.4" cy="560.3" r="2.5"/><circle cx="614.3" cy="558.0" r="2.7"/><circle cx="609.8" cy="556.7" r="2.8"/><circle cx="614.3" cy="553.7" r="2.9"/><circle cx="609.9" cy="552.7" r="2.6"/><circle cx="614.2" cy="550.1" r="2.9"/><circle cx="609.6" cy="548.9" r="3.0"/><circle cx="614.6" cy="546.4" r="2.4"/><circle cx="609.8" cy="545.2" r="2.4"/><circle cx="613.9" cy="542.0" r="2.7"/><circle cx="609.3" cy="540.9" r="2.9"/><circle cx="613.4" cy="537.9" r="2.5"/><circle cx="608.8" cy="536.6" r="3.0"/><circle cx="614.0" cy="534.1" r="2.7"/><circle cx="608.8" cy="532.2" r="2.6"/><circle cx="613.6" cy="530.0" r="2.6"/><circle cx="608.4" cy="527.6" r="2.5"/><circle cx="613.3" cy="525.5" r="2.6"/><circle cx="616.4" cy="566.3" r="2.6"/><circle cx="621.9" cy="565.5" r="2.6"/><circle cx="617.9" cy="562.9" r="2.7"/><circle cx="622.5" cy="561.4" r="2.8"/><circle cx="618.3" cy="559.1" r="2.7"/><circle cx="623.1" cy="557.6" r="2.8"/><circle cx="618.7" cy="555.2" r="2.7"/><circle cx="624.3" cy="553.8" r="2.6"/><circle cx="619.9" cy="551.7" r="2.6"/><circle cx="624.3" cy="549.2" r="2.9"/><circle cx="620.1" cy="547.9" r="2.9"/><circle cx="624.9" cy="545.9" r="2.7"/><circle cx="619.9" cy="544.1" r="2.4"/><circle cx="624.4" cy="541.8" r="2.4"/><circle cx="619.7" cy="538.4" r="2.9"/><circle cx="624.2" cy="535.8" r="2.9"/><circle cx="619.5" cy="533.9" r="2.8"/><circle cx="624.7" cy="531.5" r="2.7"/><circle cx="622.9" cy="545.7" r="2.9"/><circle cx="628.4" cy="545.3" r="2.5"/><circle cx="631.6" cy="547.1" r="2.4"/><circle cx="627.0" cy="562.5" r="2.9"/><circle cx="629.7" cy="567.9" r="2.5"/><circle cx="629.2" cy="574.2" r="2.6"/><circle cx="606.4" cy="590.1" r="2.6"/><circle cx="608.5" cy="594.5" r="2.7"/><circle cx="612.2" cy="590.3" r="2.8"/><circle cx="613.5" cy="595.3" r="2.9"/><circle cx="617.6" cy="590.8" r="2.7"/><circle cx="618.5" cy="596.2" r="2.5"/><circle cx="622.2" cy="592.5" r="2.9"/><circle cx="623.6" cy="597.3" r="2.8"/><circle cx="627.7" cy="593.6" r="2.5"/><circle cx="628.7" cy="598.7" r="2.5"/><circle cx="632.9" cy="596.0" r="2.6"/><circle cx="633.4" cy="600.6" r="2.9"/><circle cx="637.4" cy="597.1" r="2.5"/><circle cx="637.3" cy="602.4" r="2.6"/><circle cx="640.5" cy="598.6" r="2.6"/><circle cx="641.5" cy="603.5" r="3.0"/><circle cx="644.3" cy="600.2" r="2.7"/><circle cx="645.0" cy="605.5" r="2.7"/><circle cx="622.6" cy="594.6" r="2.9"/><circle cx="624.6" cy="591.3" r="3.0"/><circle cx="626.7" cy="587.6" r="2.5"/><circle cx="630.2" cy="583.9" r="3.0"/><circle cx="608.7" cy="601.7" r="2.5"/><circle cx="608.7" cy="606.7" r="2.8"/><circle cx="613.3" cy="604.1" r="2.6"/><circle cx="613.9" cy="608.6" r="2.7"/><circle cx="618.0" cy="605.1" r="2.5"/><circle cx="618.2" cy="610.4" r="2.6"/><circle cx="621.9" cy="607.6" r="2.4"/><circle cx="621.8" cy="612.5" r="2.7"/><circle cx="625.9" cy="609.7" r="3.0"/><circle cx="625.4" cy="614.7" r="2.5"/><circle cx="629.4" cy="612.0" r="2.5"/><circle cx="629.4" cy="617.4" r="2.5"/><circle cx="633.6" cy="614.1" r="2.9"/><circle cx="632.7" cy="619.1" r="2.8"/><circle cx="609.5" cy="612.2" r="2.6"/><circle cx="607.5" cy="617.0" r="2.8"/><circle cx="612.2" cy="614.9" r="2.7"/><circle cx="610.0" cy="620.3" r="2.8"/><circle cx="615.1" cy="618.4" r="2.8"/><circle cx="613.3" cy="623.2" r="2.9"/><circle cx="618.1" cy="621.6" r="3.0"/><circle cx="615.7" cy="626.6" r="2.8"/><circle cx="620.9" cy="625.3" r="2.8"/><circle cx="618.9" cy="629.8" r="2.5"/><circle cx="606.0" cy="621.7" r="2.9"/><circle cx="604.6" cy="626.3" r="2.6"/><circle cx="592.3" cy="573.9" r="2.9"/><circle cx="590.2" cy="579.8" r="2.5"/></g>
<!--/AIRWAY-->
<!--ARROW1-->
<path d="M420.5,658.5 C421.0,660.1 422.3,663.5 423.5,668.0 C424.7,672.5 426.9,679.9 427.5,685.6 C428.1,691.3 427.3,696.8 427.0,702.0 C426.7,707.2 427.1,711.5 425.6,716.7 C424.1,721.9 421.1,727.4 417.8,733.3 C414.5,739.2 410.4,745.9 405.6,752.2 C400.8,758.5 395.4,764.9 388.9,771.0 C382.4,777.1 373.2,784.1 366.7,788.9 C360.2,793.7 355.4,794.8 350.0,800.0 C344.6,805.2 338.6,815.2 334.4,820.0 C330.2,824.8 326.6,827.1 325.0,828.5 L313,830 L309.6,863.7 L372.2,832 L354,831 C356.1,829.2 362.4,823.7 366.7,820.0 C371.0,816.3 374.6,813.7 380.0,808.9 C385.4,804.1 393.2,797.1 398.9,791.0 C404.6,784.9 409.9,778.5 414.4,772.2 C418.8,765.9 422.6,759.8 425.6,753.3 C428.6,746.8 430.5,740.3 432.2,733.3 C433.9,726.2 435.1,716.9 435.6,711.0 C436.2,705.1 435.9,702.2 435.5,698.0 C435.1,693.8 434.2,689.8 433.0,685.6 C431.8,681.4 430.0,676.7 428.5,673.0 C427.0,669.3 424.8,665.1 424.0,663.5 Z" fill="#c9cdd0" stroke="#5d6266" stroke-width="1.8" stroke-linejoin="miter"/>
<!--/ARROW1-->
</g>

<!--/ANATOMY-->
<!--INSETS-->
<g id="insetboxes" stroke="#1a1a1a" stroke-width="2.7" fill="#fff"><rect x="175.5" y="869" width="258.2" height="226"/><rect x="655" y="926" width="257.5" height="226.5"/></g>
<defs><clipPath id="cpB1"><rect x="177" y="870.5" width="255.2" height="223"/></clipPath>
<clipPath id="cpSac"><path d="M277.5,932.5 C286.7,933.8 294.2,936.7 300.0,942.5 C305.8,948.3 309.6,957.9 312.5,967.5 C315.4,977.1 317.5,989.6 317.5,1000.0 C317.5,1010.4 315.4,1020.0 312.5,1030.0 C309.6,1040.0 305.4,1051.7 300.0,1060.0 C294.6,1068.3 287.5,1074.6 280.0,1080.0 C272.5,1085.4 262.9,1092.1 255.0,1092.5 C247.1,1092.9 240.0,1087.9 232.5,1082.5 C225.0,1077.1 215.8,1068.8 210.0,1060.0 C204.2,1051.2 200.0,1040.0 197.5,1030.0 C195.0,1020.0 194.2,1010.0 195.0,1000.0 C195.8,990.0 198.3,978.3 202.5,970.0 C206.7,961.7 212.9,955.8 220.0,950.0 C227.1,944.2 235.4,937.9 245.0,935.0 C254.6,932.1 268.3,931.2 277.5,932.5 Z"/></clipPath>
<radialGradient id="gAlv" cx="0.4" cy="0.6" r="0.75"><stop offset="0" stop-color="#c81e2a"/><stop offset="0.62" stop-color="#dc2f37"/><stop offset="0.9" stop-color="#ee5a5e"/><stop offset="1" stop-color="#f79a96"/></radialGradient>
<radialGradient id="gLump" cx="0.45" cy="0.4" r="0.6"><stop offset="0" stop-color="#fbd0c8"/><stop offset="1" stop-color="#f6a9a0"/></radialGradient>
</defs>
<g clip-path="url(#cpB1)">
<path d="M332.5,867.5 C327.5,871.2 332.5,882.1 333.8,890.0 C335.0,897.9 338.1,907.5 340.0,915.0 C341.9,922.5 342.9,929.6 345.0,935.0 C347.1,940.4 348.3,945.8 352.5,947.5 C356.7,949.2 367.1,949.2 370.0,945.0 C372.9,940.8 371.0,930.4 370.0,922.5 C369.0,914.6 364.8,906.7 363.8,897.5 C362.7,888.3 369.0,872.5 363.8,867.5 C358.5,862.5 337.5,863.8 332.5,867.5 Z" fill="#eba193" stroke="#e8948a" stroke-width="0.8"/>
<path d="M338.0,870.0 C338.2,873.3 337.9,882.9 339.0,890.0 C340.1,897.1 342.6,905.0 344.5,912.5 C346.4,920.0 349.5,931.2 350.5,935.0" fill="none" stroke="#f7c4b6" stroke-width="5" stroke-linecap="round"/>
<path d="M311.2,900.0 C314.2,896.7 319.7,893.3 323.0,895.0 C326.3,896.7 331.3,904.8 331.2,910.0 C331.2,915.2 326.9,920.6 322.5,926.2 C318.1,931.9 310.8,940.6 305.0,943.8 C299.2,946.9 289.4,947.3 287.5,945.0 C285.6,942.7 290.8,935.0 293.8,930.0 C296.7,925.0 302.1,920.0 305.0,915.0 C307.9,910.0 308.2,903.3 311.2,900.0 Z" fill="#f5b7a8" stroke="#ef9c90" stroke-width="0.8"/>
<path d="M277.5,932.5 C286.7,933.8 294.2,936.7 300.0,942.5 C305.8,948.3 309.6,957.9 312.5,967.5 C315.4,977.1 317.5,989.6 317.5,1000.0 C317.5,1010.4 315.4,1020.0 312.5,1030.0 C309.6,1040.0 305.4,1051.7 300.0,1060.0 C294.6,1068.3 287.5,1074.6 280.0,1080.0 C272.5,1085.4 262.9,1092.1 255.0,1092.5 C247.1,1092.9 240.0,1087.9 232.5,1082.5 C225.0,1077.1 215.8,1068.8 210.0,1060.0 C204.2,1051.2 200.0,1040.0 197.5,1030.0 C195.0,1020.0 194.2,1010.0 195.0,1000.0 C195.8,990.0 198.3,978.3 202.5,970.0 C206.7,961.7 212.9,955.8 220.0,950.0 C227.1,944.2 235.4,937.9 245.0,935.0 C254.6,932.1 268.3,931.2 277.5,932.5 Z" fill="#f3998f" stroke="#ee8a84" stroke-width="1.5"/>
<g clip-path="url(#cpSac)" stroke="#ee8d86" stroke-width="0.9" fill="url(#gLump)">
<ellipse cx="214.2" cy="1029.6" rx="11.2" ry="10.9" transform="rotate(-15 214.2 1029.6)"/>
<ellipse cx="234.7" cy="995.1" rx="8.8" ry="11.5" transform="rotate(32 234.7 995.1)"/>
<ellipse cx="220.4" cy="962.2" rx="7.2" ry="8.4" transform="rotate(-11 220.4 962.2)"/>
<ellipse cx="250.4" cy="1034.5" rx="9.5" ry="10.8" transform="rotate(-9 250.4 1034.5)"/>
<ellipse cx="252.1" cy="997.6" rx="9.5" ry="12.0" transform="rotate(24 252.1 997.6)"/>
<ellipse cx="302.6" cy="998.7" rx="9.5" ry="11.6" transform="rotate(5 302.6 998.7)"/>
<ellipse cx="260.2" cy="1020.4" rx="8.2" ry="11.0" transform="rotate(30 260.2 1020.4)"/>
<ellipse cx="280.1" cy="1024.9" rx="7.7" ry="7.9" transform="rotate(1 280.1 1024.9)"/>
<ellipse cx="295.6" cy="1022.4" rx="8.9" ry="10.1" transform="rotate(37 295.6 1022.4)"/>
<ellipse cx="279.5" cy="965.8" rx="9.8" ry="11.6" transform="rotate(-35 279.5 965.8)"/>
<ellipse cx="208.4" cy="1012.6" rx="9.0" ry="10.9" transform="rotate(-33 208.4 1012.6)"/>
<ellipse cx="245.9" cy="1088.7" rx="9.2" ry="12.7" transform="rotate(32 245.9 1088.7)"/>
<ellipse cx="260.0" cy="963.7" rx="8.8" ry="11.8" transform="rotate(-28 260.0 963.7)"/>
<ellipse cx="212.8" cy="1062.1" rx="10.8" ry="11.8" transform="rotate(-20 212.8 1062.1)"/>
<ellipse cx="290.3" cy="984.1" rx="9.6" ry="12.7" transform="rotate(2 290.3 984.1)"/>
<ellipse cx="227.6" cy="1078.6" rx="10.6" ry="10.6" transform="rotate(-13 227.6 1078.6)"/>
<ellipse cx="263.5" cy="981.2" rx="10.5" ry="10.9" transform="rotate(-1 263.5 981.2)"/>
<ellipse cx="232.0" cy="1023.5" rx="9.8" ry="11.7" transform="rotate(17 232.0 1023.5)"/>
<ellipse cx="288.3" cy="1058.1" rx="8.8" ry="8.6" transform="rotate(26 288.3 1058.1)"/>
<ellipse cx="276.5" cy="989.0" rx="9.1" ry="10.8" transform="rotate(24 276.5 989.0)"/>
<ellipse cx="303.5" cy="1057.9" rx="9.0" ry="10.3" transform="rotate(37 303.5 1057.9)"/>
<ellipse cx="241.0" cy="1049.6" rx="8.0" ry="8.7" transform="rotate(17 241.0 1049.6)"/>
<ellipse cx="294.1" cy="1044.2" rx="9.0" ry="9.0" transform="rotate(-6 294.1 1044.2)"/>
<ellipse cx="288.0" cy="1073.4" rx="8.9" ry="12.0" transform="rotate(39 288.0 1073.4)"/>
<ellipse cx="252.5" cy="937.5" rx="7.8" ry="8.2" transform="rotate(-24 252.5 937.5)"/>
<ellipse cx="225.9" cy="982.0" rx="7.6" ry="8.2" transform="rotate(38 225.9 982.0)"/>
<ellipse cx="312.2" cy="1030.8" rx="7.1" ry="8.7" transform="rotate(-31 312.2 1030.8)"/>
<ellipse cx="247.9" cy="974.8" rx="10.4" ry="12.2" transform="rotate(-26 247.9 974.8)"/>
<ellipse cx="205.7" cy="986.4" rx="8.1" ry="10.4" transform="rotate(7 205.7 986.4)"/>
<ellipse cx="251.5" cy="1063.9" rx="8.6" ry="7.4" transform="rotate(-31 251.5 1063.9)"/>
<ellipse cx="272.2" cy="1054.6" rx="8.3" ry="9.5" transform="rotate(-21 272.2 1054.6)"/>
<ellipse cx="301.3" cy="963.9" rx="10.1" ry="11.0" transform="rotate(-22 301.3 963.9)"/>
<ellipse cx="240.0" cy="957.2" rx="7.2" ry="8.3" transform="rotate(-26 240.0 957.2)"/>
<ellipse cx="272.4" cy="1012.4" rx="9.8" ry="9.7" transform="rotate(4 272.4 1012.4)"/>
<ellipse cx="271.3" cy="941.1" rx="9.4" ry="9.6" transform="rotate(-19 271.3 941.1)"/>
<ellipse cx="262.3" cy="1076.8" rx="10.0" ry="11.4" transform="rotate(-13 262.3 1076.8)"/>
<ellipse cx="263.4" cy="1043.0" rx="10.4" ry="13.1" transform="rotate(-1 263.4 1043.0)"/>
<ellipse cx="216.4" cy="1044.0" rx="8.2" ry="8.7" transform="rotate(36 216.4 1044.0)"/>
<ellipse cx="246.4" cy="1013.5" rx="10.8" ry="10.8" transform="rotate(2 246.4 1013.5)"/>
<ellipse cx="235.0" cy="942.5" rx="9.0" ry="9.4" transform="rotate(39 235.0 942.5)"/>
<ellipse cx="287.7" cy="951.7" rx="8.5" ry="8.4" transform="rotate(-39 287.7 951.7)"/>
<ellipse cx="311.6" cy="1011.7" rx="7.8" ry="8.5" transform="rotate(24 311.6 1011.7)"/>
<ellipse cx="220.4" cy="1002.5" rx="11.2" ry="12.2" transform="rotate(-27 220.4 1002.5)"/>
<ellipse cx="199.3" cy="1027.6" rx="8.9" ry="10.6" transform="rotate(-19 199.3 1027.6)"/>
<ellipse cx="236.4" cy="1063.6" rx="10.8" ry="11.0" transform="rotate(11 236.4 1063.6)"/>
<ellipse cx="308.4" cy="985.2" rx="10.1" ry="9.2" transform="rotate(3 308.4 985.2)"/>
</g>
<g fill="none" stroke="#8c6fb4" stroke-width="2.6" stroke-linecap="round" stroke-linejoin="round" clip-path="url(#cpSac)">
<path d="M275.0,935.0 C272.1,936.7 262.9,940.8 257.5,945.0 C252.1,949.2 247.5,954.6 242.5,960.0 C237.5,965.4 232.1,970.8 227.5,977.5 C222.9,984.2 216.7,992.5 215.0,1000.0 C213.3,1007.5 215.4,1014.2 217.5,1022.5 C219.6,1030.8 225.0,1041.2 227.5,1050.0 C230.0,1058.8 229.6,1068.3 232.5,1075.0 C235.4,1081.7 242.9,1087.5 245.0,1090.0"/>
<path d="M285.0,935.0 C285.4,938.3 288.3,948.8 287.5,955.0 C286.7,961.2 279.6,965.8 280.0,972.5 C280.4,979.2 287.9,986.7 290.0,995.0 C292.1,1003.3 292.9,1013.3 292.5,1022.5 C292.1,1031.7 287.1,1042.5 287.5,1050.0 C287.9,1057.5 293.8,1064.6 295.0,1067.5"/>
<path d="M242.5,960.0 C245.0,961.7 252.1,967.1 257.5,970.0 C262.9,972.9 269.6,973.3 275.0,977.5 C280.4,981.7 287.5,992.1 290.0,995.0"/>
<path d="M227.5,977.5 C230.4,979.6 239.2,987.1 245.0,990.0 C250.8,992.9 257.5,990.8 262.5,995.0 C267.5,999.2 273.8,1007.5 275.0,1015.0 C276.2,1022.5 269.2,1032.5 270.0,1040.0 C270.8,1047.5 278.8,1053.3 280.0,1060.0 C281.2,1066.7 277.9,1076.7 277.5,1080.0"/>
<path d="M215.0,1000.0 C217.9,1000.8 227.5,1001.7 232.5,1005.0 C237.5,1008.3 243.8,1014.2 245.0,1020.0 C246.2,1025.8 238.8,1033.3 240.0,1040.0 C241.2,1046.7 250.8,1053.3 252.5,1060.0 C254.2,1066.7 250.4,1076.7 250.0,1080.0"/>
<path d="M245.0,990.0 C244.6,993.3 242.5,1005.0 242.5,1010.0 C242.5,1015.0 244.6,1018.3 245.0,1020.0"/>
<path d="M262.5,995.0 C261.7,998.3 257.1,1008.3 257.5,1015.0 C257.9,1021.7 265.4,1029.2 265.0,1035.0 C264.6,1040.8 257.1,1045.8 255.0,1050.0 C252.9,1054.2 252.9,1058.3 252.5,1060.0"/>
<path d="M275.0,1015.0 C277.9,1016.2 289.6,1021.2 292.5,1022.5"/>
<path d="M270.0,1040.0 C272.9,1041.7 284.6,1048.3 287.5,1050.0"/>
<path d="M227.5,1050.0 C229.6,1048.3 237.9,1041.7 240.0,1040.0"/>
<path d="M265.0,967.5 C265.8,964.2 267.5,952.9 270.0,947.5 C272.5,942.1 278.3,937.1 280.0,935.0"/>
<path d="M257.5,970.0 C257.1,972.5 257.1,981.7 255.0,985.0 C252.9,988.3 246.7,989.2 245.0,990.0"/>
<path d="M280.0,972.5 C278.3,973.8 272.9,976.2 270.0,980.0 C267.1,983.8 263.8,992.5 262.5,995.0"/>
<path d="M217.5,1022.5 C219.6,1022.9 225.8,1027.1 230.0,1025.0 C234.2,1022.9 240.4,1012.5 242.5,1010.0"/>
<path d="M232.5,1075.0 C235.8,1072.5 249.2,1062.5 252.5,1060.0"/>
<path d="M265.0,1035.0 C265.8,1035.8 269.2,1039.2 270.0,1040.0"/>
<path d="M280.0,1060.0 C282.5,1061.2 292.5,1066.2 295.0,1067.5"/>
<path d="M290.0,995.0 C292.5,995.8 301.7,995.8 305.0,1000.0 C308.3,1004.2 310.4,1013.3 310.0,1020.0 C309.6,1026.7 306.2,1035.0 302.5,1040.0 C298.8,1045.0 290.0,1048.3 287.5,1050.0"/>
</g>
<path d="M370.0,942.5 C377.5,942.9 387.5,943.8 395.0,947.5 C402.5,951.2 410.2,958.8 415.0,965.0 C419.8,971.2 421.7,977.5 423.8,985.0 C425.8,992.5 428.5,1002.5 427.5,1010.0 C426.5,1017.5 421.7,1023.3 417.5,1030.0 C413.3,1036.7 408.3,1045.4 402.5,1050.0 C396.7,1054.6 389.6,1057.9 382.5,1057.5 C375.4,1057.1 367.1,1051.7 360.0,1047.5 C352.9,1043.3 345.4,1038.8 340.0,1032.5 C334.6,1026.2 329.8,1018.8 327.5,1010.0 C325.2,1001.2 324.6,988.3 326.2,980.0 C327.9,971.7 333.5,965.8 337.5,960.0 C341.5,954.2 344.6,947.9 350.0,945.0 C355.4,942.1 362.5,942.1 370.0,942.5 Z" fill="#f8b4aa" stroke="#f29890" stroke-width="1"/>
<circle cx="390.0" cy="957.5" r="10.0" fill="url(#gLump)" stroke="#f39c94" stroke-width="0.8"/>
<circle cx="407.5" cy="972.5" r="10.5" fill="url(#gLump)" stroke="#f39c94" stroke-width="0.8"/>
<circle cx="416.2" cy="995.0" r="10.0" fill="url(#gLump)" stroke="#f39c94" stroke-width="0.8"/>
<circle cx="416.2" cy="1017.5" r="9.5" fill="url(#gLump)" stroke="#f39c94" stroke-width="0.8"/>
<circle cx="405.0" cy="1035.0" r="9.0" fill="url(#gLump)" stroke="#f39c94" stroke-width="0.8"/>
<circle cx="375.0" cy="950.0" r="8.0" fill="url(#gLump)" stroke="#f39c94" stroke-width="0.8"/>
<circle cx="353.8" cy="956.2" r="10.5" fill="url(#gAlv)" stroke="#f79c98" stroke-width="1.4"/>
<circle cx="340.0" cy="977.5" r="12.5" fill="url(#gAlv)" stroke="#f79c98" stroke-width="1.4"/>
<circle cx="372.5" cy="972.5" r="13.8" fill="url(#gAlv)" stroke="#f79c98" stroke-width="1.4"/>
<circle cx="345.0" cy="1004.5" r="15.0" fill="url(#gAlv)" stroke="#f79c98" stroke-width="1.4"/>
<circle cx="388.0" cy="993.8" r="13.8" fill="url(#gAlv)" stroke="#f79c98" stroke-width="1.4"/>
<circle cx="367.0" cy="1020.0" r="15.0" fill="url(#gAlv)" stroke="#f79c98" stroke-width="1.4"/>
<circle cx="401.2" cy="1021.2" r="12.0" fill="url(#gAlv)" stroke="#f79c98" stroke-width="1.4"/>
<circle cx="385.0" cy="1041.2" r="13.0" fill="url(#gAlv)" stroke="#f79c98" stroke-width="1.4"/>
<path d="M331.2,866.2 C330.5,867.7 329.0,870.9 326.8,874.8 C324.5,878.6 320.6,884.5 317.5,889.5 C314.4,894.5 311.1,900.3 308.0,904.5 C304.9,908.7 302.9,911.0 299.0,914.8 C295.1,918.5 290.6,922.4 284.5,926.8 C278.4,931.1 266.0,938.4 262.2,940.8" fill="none" stroke="#6d80b9" stroke-width="12" stroke-linecap="round"/>
<path d="M284.5,926.8 C280.8,929.1 268.9,936.0 262.2,940.8 C255.6,945.5 249.9,949.3 244.5,955.0 C239.1,960.7 232.4,971.7 230.0,975.0" fill="none" stroke="#7b76b7" stroke-width="8" stroke-linecap="round"/>
<path d="M230.0,975.0 C228.1,978.3 221.0,989.2 218.8,995.0 C216.5,1000.8 216.7,1007.5 216.2,1010.0" fill="none" stroke="#8471b5" stroke-width="4.5" stroke-linecap="round"/>
<path d="M290.0,925.5 C289.6,928.8 287.8,938.8 287.5,945.0 C287.2,951.2 287.9,959.6 288.0,962.5" fill="none" stroke="#7b76b7" stroke-width="5" stroke-linecap="round"/>
<path d="M321.5,885.0 C322.3,888.2 325.1,897.5 326.5,904.5 C327.9,911.5 329.6,919.3 330.0,926.8 C330.4,934.2 329.4,942.4 329.0,949.0 C328.6,955.6 327.8,963.4 327.5,966.2" fill="none" stroke="#6d80b9" stroke-width="8" stroke-linecap="round"/>
<path d="M329.0,949.0 C328.8,950.8 328.3,956.5 328.0,960.0 C327.7,963.5 327.2,968.3 327.0,970.0" fill="none" stroke="#6d80b9" stroke-width="5" stroke-linecap="round"/>
<path d="M331.5,919.2 C333.5,921.5 339.6,929.1 343.8,932.5 C347.9,935.9 354.2,938.3 356.2,939.5" fill="none" stroke="#6d80b9" stroke-width="6" stroke-linecap="round"/>
<path d="M313.0,866.2 C312.3,867.7 310.8,871.3 309.0,874.8 C307.2,878.2 305.2,881.8 302.2,886.8 C299.2,891.7 295.7,899.5 291.0,904.5 C286.3,909.5 280.0,913.4 274.0,917.0 C268.0,920.6 258.0,924.5 254.8,926.0" fill="none" stroke="#e4413b" stroke-width="14" stroke-linecap="round"/>
<path d="M274.0,917.0 C270.8,918.5 260.4,923.2 254.8,926.0 C249.1,928.8 245.8,930.4 240.0,934.0 C234.2,937.6 226.2,941.9 220.0,947.5 C213.8,953.1 205.4,964.2 202.5,967.5" fill="none" stroke="#e4413b" stroke-width="9" stroke-linecap="round"/>
<path d="M202.5,967.5 C200.6,970.8 194.2,980.4 191.2,987.5 C188.2,994.6 185.5,1002.1 184.5,1010.0 C183.5,1017.9 184.9,1030.8 185.0,1035.0" fill="none" stroke="#e4413b" stroke-width="6" stroke-linecap="round"/>
<path d="M185.0,1035.0 C186.7,1038.8 190.8,1051.2 195.0,1057.5 C199.2,1063.8 204.4,1068.2 210.0,1072.5 C215.6,1076.8 225.6,1081.5 228.8,1083.2" fill="none" stroke="#e4413b" stroke-width="4.2" stroke-linecap="round"/>
<path d="M312.5,871.2 C311.2,873.8 308.1,881.0 305.0,886.2 C301.9,891.5 298.3,898.1 293.8,903.0 C289.2,907.9 283.5,911.8 277.5,915.5 C271.5,919.2 260.8,923.8 257.5,925.5" fill="none" stroke="#f26a58" stroke-width="5" stroke-linecap="round"/>
<g stroke="#e4413b" stroke-width="2.4" stroke-linecap="round"><path d="M242.5,932.5 L245.0,943.8"/><path d="M220.0,946.2 L225.5,958.8"/><path d="M202.5,965.0 L212.5,973.0"/><path d="M188.8,992.5 L199.5,996.8"/><path d="M183.8,1020.0 L196.0,1020.0"/><path d="M188.8,1047.5 L199.5,1042.0"/><path d="M202.5,1066.2 L210.0,1057.5"/></g>
</g>
<!--/INSETS-->
<!--INSET2-->
<defs><radialGradient id="gRed2" cx="0.5" cy="0.6" r="0.65"><stop offset="0" stop-color="#c41c28"/><stop offset="0.6" stop-color="#d82c34"/><stop offset="1" stop-color="#ee5a5a"/></radialGradient>
<radialGradient id="gHole" cx="0.5" cy="0.5" r="0.6"><stop offset="0" stop-color="#f8b8a6"/><stop offset="1" stop-color="#ee8e80"/></radialGradient></defs>
<path d="M708.8,957.5 C706.0,960.8 710.4,970.8 710.0,977.5 C709.6,984.2 708.8,990.4 706.2,997.5 C703.8,1004.6 693.5,1015.4 695.0,1020.0 C696.5,1024.6 709.6,1027.9 715.0,1025.0 C720.4,1022.1 725.0,1010.0 727.5,1002.5 C730.0,995.0 730.2,987.5 730.0,980.0 C729.8,972.5 729.8,961.2 726.2,957.5 C722.7,953.8 711.5,954.2 708.8,957.5 Z" fill="#9c7cc4" stroke="#8a6ab4" stroke-width="0.8"/>
<ellipse cx="717.5" cy="957.0" rx="9.0" ry="4.2" transform="rotate(-8 717.5 957.0)" fill="#7d5ea8"/>
<path d="M713.8,965.0 C713.9,968.3 714.9,978.8 714.5,985.0 C714.1,991.2 711.8,999.6 711.2,1002.5" fill="none" stroke="#bfa4de" stroke-width="2.2" stroke-linecap="round"/>
<path d="M810.0,977.5 C812.5,970.0 821.5,973.8 825.0,970.0 C828.5,966.2 827.5,958.5 831.2,955.0 C835.0,951.5 841.9,948.3 847.5,948.8 C853.1,949.2 861.7,954.0 865.0,957.5 C868.3,961.0 868.3,965.0 867.5,970.0 C866.7,975.0 862.5,981.2 860.0,987.5 C857.5,993.8 854.2,1000.0 852.5,1007.5 C850.8,1015.0 854.6,1027.5 850.0,1032.5 C845.4,1037.5 831.7,1040.4 825.0,1037.5 C818.3,1034.6 812.5,1025.0 810.0,1015.0 C807.5,1005.0 807.5,985.0 810.0,977.5 Z" fill="#f4a79a" stroke="#ec9286" stroke-width="1"/>
<ellipse cx="848.8" cy="959.5" rx="18.0" ry="10.5" transform="rotate(-18 848.8 959.5)" fill="#f9c3b6" stroke="#ee9a8c" stroke-width="1"/>
<ellipse cx="849.2" cy="960.0" rx="12.5" ry="6.8" transform="rotate(-18 849.2 960.0)" fill="#b48a84"/>
<path d="M775.0,968.8 C784.6,968.8 795.8,970.2 805.0,973.8 C814.2,977.3 822.5,983.1 830.0,990.0 C837.5,996.9 844.6,1005.8 850.0,1015.0 C855.4,1024.2 860.8,1035.0 862.5,1045.0 C864.2,1055.0 863.3,1065.0 860.0,1075.0 C856.7,1085.0 850.4,1096.2 842.5,1105.0 C834.6,1113.8 822.9,1122.5 812.5,1127.5 C802.1,1132.5 791.2,1135.0 780.0,1135.0 C768.8,1135.0 755.4,1131.7 745.0,1127.5 C734.6,1123.3 725.4,1117.5 717.5,1110.0 C709.6,1102.5 701.9,1092.5 697.5,1082.5 C693.1,1072.5 690.8,1060.8 691.2,1050.0 C691.7,1039.2 695.2,1027.5 700.0,1017.5 C704.8,1007.5 712.1,997.3 720.0,990.0 C727.9,982.7 738.3,977.3 747.5,973.8 C756.7,970.2 765.4,968.8 775.0,968.8 Z" fill="#f5a99c" stroke="#ee9588" stroke-width="1"/>
<ellipse cx="770.8" cy="1027.0" rx="58.0" ry="60.0" transform="rotate(-25 770.8 1027.0)" fill="#f9c0b2"/>
<ellipse cx="772.0" cy="1028.5" rx="53.0" ry="55.5" transform="rotate(-25 772.0 1028.5)" fill="#f29e94"/>
<ellipse cx="771.2" cy="1027.5" rx="49.0" ry="51.8" transform="rotate(-25 771.2 1027.5)" fill="url(#gRed2)"/>
<path d="M708.8,1000.0 C703.3,1004.2 696.5,1014.2 692.5,1022.5 C688.5,1030.8 685.0,1040.4 685.0,1050.0 C685.0,1059.6 688.8,1070.8 692.5,1080.0 C696.2,1089.2 700.8,1097.5 707.5,1105.0 C714.2,1112.5 723.3,1119.6 732.5,1125.0 C741.7,1130.4 752.1,1134.8 762.5,1137.5 C772.9,1140.2 784.6,1141.9 795.0,1141.2 C805.4,1140.6 815.8,1137.9 825.0,1133.8 C834.2,1129.6 842.9,1122.9 850.0,1116.2 C857.1,1109.6 863.1,1101.5 867.5,1093.8 C871.9,1086.0 875.2,1077.3 876.2,1070.0 C877.3,1062.7 875.2,1056.7 873.8,1050.0 C872.3,1043.3 867.1,1037.1 867.5,1030.0 C867.9,1022.9 873.5,1013.1 876.2,1007.5 C879.0,1001.9 884.8,999.0 883.8,996.2 C882.7,993.5 874.0,988.1 870.0,991.2 C866.0,994.4 864.6,1007.3 860.0,1015.0 C855.4,1022.7 848.3,1030.6 842.5,1037.5 C836.7,1044.4 830.4,1050.2 825.0,1056.2 C819.6,1062.3 815.8,1068.8 810.0,1073.8 C804.2,1078.8 797.1,1083.8 790.0,1086.2 C782.9,1088.8 775.0,1089.8 767.5,1088.8 C760.0,1087.7 751.7,1083.8 745.0,1080.0 C738.3,1076.2 732.4,1072.5 727.5,1066.2 C722.6,1060.0 717.2,1050.6 715.5,1042.5 C713.8,1034.4 715.4,1025.0 717.0,1017.5 C718.6,1010.0 726.4,1000.4 725.0,997.5 C723.6,994.6 714.2,995.8 708.8,1000.0 Z" fill="#9a7cc6" stroke="#8a6cb6" stroke-width="0.8"/>
<ellipse cx="701.2" cy="1017.5" rx="4.0" ry="7.5" transform="rotate(15 701.2 1017.5)" fill="#e66456" opacity="0.85"/>
<ellipse cx="693.8" cy="1050.0" rx="4.5" ry="8.8" transform="rotate(0 693.8 1050.0)" fill="#e66456" opacity="0.85"/>
<ellipse cx="702.5" cy="1072.5" rx="5.0" ry="5.5" transform="rotate(0 702.5 1072.5)" fill="#e66456" opacity="0.85"/>
<ellipse cx="712.5" cy="1060.0" rx="4.5" ry="10.0" transform="rotate(-15 712.5 1060.0)" fill="#e66456" opacity="0.85"/>
<ellipse cx="725.0" cy="1100.0" rx="5.5" ry="10.0" transform="rotate(-30 725.0 1100.0)" fill="#e66456" opacity="0.85"/>
<ellipse cx="732.5" cy="1112.5" rx="6.2" ry="4.5" transform="rotate(0 732.5 1112.5)" fill="#e66456" opacity="0.85"/>
<ellipse cx="775.0" cy="1112.5" rx="7.5" ry="4.0" transform="rotate(-15 775.0 1112.5)" fill="#e66456" opacity="0.85"/>
<ellipse cx="790.0" cy="1106.2" rx="7.0" ry="4.0" transform="rotate(-20 790.0 1106.2)" fill="#e66456" opacity="0.85"/>
<ellipse cx="732.5" cy="1080.0" rx="5.5" ry="4.0" transform="rotate(20 732.5 1080.0)" fill="#e66456" opacity="0.85"/>
<ellipse cx="750.0" cy="1092.5" rx="6.2" ry="3.5" transform="rotate(20 750.0 1092.5)" fill="#e66456" opacity="0.85"/>
<ellipse cx="847.5" cy="1047.5" rx="8.8" ry="18.5" transform="rotate(25 847.5 1047.5)" fill="url(#gHole)" stroke="#e98878" stroke-width="0.6"/>
<ellipse cx="863.2" cy="1062.5" rx="7.0" ry="14.5" transform="rotate(18 863.2 1062.5)" fill="url(#gHole)" stroke="#e98878" stroke-width="0.6"/>
<ellipse cx="822.5" cy="1090.0" rx="10.2" ry="18.0" transform="rotate(22 822.5 1090.0)" fill="url(#gHole)" stroke="#e98878" stroke-width="0.6"/>
<ellipse cx="850.0" cy="1092.5" rx="10.0" ry="16.8" transform="rotate(28 850.0 1092.5)" fill="url(#gHole)" stroke="#e98878" stroke-width="0.6"/>
<ellipse cx="805.0" cy="1121.2" rx="24.5" ry="8.5" transform="rotate(-10 805.0 1121.2)" fill="url(#gHole)" stroke="#e98878" stroke-width="0.6"/>
<ellipse cx="785.0" cy="1103.8" rx="18.0" ry="7.2" transform="rotate(-22 785.0 1103.8)" fill="url(#gHole)" stroke="#e98878" stroke-width="0.6"/>
<ellipse cx="756.2" cy="1121.2" rx="22.5" ry="7.5" transform="rotate(10 756.2 1121.2)" fill="url(#gHole)" stroke="#e98878" stroke-width="0.6"/>
<ellipse cx="742.5" cy="1096.2" rx="15.0" ry="10.8" transform="rotate(35 742.5 1096.2)" fill="url(#gHole)" stroke="#e98878" stroke-width="0.6"/>
<ellipse cx="710.0" cy="1096.2" rx="10.5" ry="16.5" transform="rotate(-32 710.0 1096.2)" fill="url(#gHole)" stroke="#e98878" stroke-width="0.6"/>
<ellipse cx="699.5" cy="1037.5" rx="4.5" ry="16.5" transform="rotate(8 699.5 1037.5)" fill="url(#gHole)" stroke="#e98878" stroke-width="0.6"/>
<ellipse cx="711.2" cy="1037.5" rx="3.8" ry="18.0" transform="rotate(-5 711.2 1037.5)" fill="url(#gHole)" stroke="#e98878" stroke-width="0.6"/>
<ellipse cx="830.0" cy="1065.0" rx="6.2" ry="9.0" transform="rotate(40 830.0 1065.0)" fill="url(#gHole)" stroke="#e98878" stroke-width="0.6"/>
<ellipse cx="812.5" cy="1076.2" rx="7.0" ry="4.2" transform="rotate(-35 812.5 1076.2)" fill="url(#gHole)" stroke="#e98878" stroke-width="0.6"/>
<ellipse cx="870.0" cy="1045.0" rx="3.8" ry="9.0" transform="rotate(10 870.0 1045.0)" fill="url(#gHole)" stroke="#e98878" stroke-width="0.6"/>
<ellipse cx="725.0" cy="1080.0" rx="4.5" ry="9.0" transform="rotate(-40 725.0 1080.0)" fill="url(#gHole)" stroke="#e98878" stroke-width="0.6"/>
<ellipse cx="770.0" cy="1132.5" rx="15.5" ry="3.5" transform="rotate(5 770.0 1132.5)" fill="url(#gHole)" stroke="#e98878" stroke-width="0.6"/>
<ellipse cx="830.0" cy="1117.5" rx="12.5" ry="5.5" transform="rotate(-35 830.0 1117.5)" fill="url(#gHole)" stroke="#e98878" stroke-width="0.6"/>
<ellipse cx="862.5" cy="1082.5" rx="4.5" ry="9.0" transform="rotate(25 862.5 1082.5)" fill="url(#gHole)" stroke="#e98878" stroke-width="0.6"/>
<path d="M870.0,991.2 C874.0,988.1 882.7,993.5 883.8,996.2 C884.8,999.0 879.0,1001.9 876.2,1007.5 C873.5,1013.1 870.2,1028.8 867.5,1030.0 C864.8,1031.2 859.6,1021.5 860.0,1015.0 C860.4,1008.5 866.0,994.4 870.0,991.2 Z" fill="#a486cc"/>
<path d="M872.5,995.0 C872.1,997.1 871.2,1002.9 870.0,1007.5 C868.8,1012.1 866.2,1020.0 865.5,1022.5" fill="none" stroke="#7d5ea8" stroke-width="2.5" stroke-linecap="round"/>
<path d="M734.5,1045.0 L732.5,1060.0 L737.5,1075.0 L733.8,1080.0 L748.8,1085.5 L750.0,1070.0 L746.2,1074.5 L741.2,1062.5 L738.0,1046.2 Z" fill="#cfdde3" stroke="#8f9ca4" stroke-width="0.8" stroke-linejoin="round"/>
<path d="M774.5,1088.0 L786.2,1075.0 L790.0,1056.2 L783.8,1055.0 L794.5,1040.0 L803.0,1056.2 L797.5,1056.2 L795.0,1076.2 L783.8,1088.0 Z" fill="#cfdde3" stroke="#8f9ca4" stroke-width="0.8" stroke-linejoin="round"/>
<g font-family="'Liberation Sans',sans-serif" fill="#3a0c10" font-size="27">
<text x="730.5" y="1030.5">O<tspan font-size="17" dy="5">2</tspan></text>
<text x="778" y="1030.5">CO<tspan font-size="17" dy="5">2</tspan></text>
</g>
<!--/INSET2-->
<!--ARROW2-->
<path d="M401,1031.4 C406,1037 411.5,1042 417.8,1046.7 C430,1056 444,1062 459.4,1066 C482,1071.5 505,1074 529,1074.4 C552,1074.6 575,1073.8 598,1071.7 C611,1070 624,1067.5 637,1064.7 L637,1055 L672,1071.7 L634.4,1100.8 L637,1089.7 C624,1091 611,1092 598,1092.5 C575,1094 552,1094.6 529,1094 C510,1093 491,1091 473,1087 C458,1082.5 444,1076 431.7,1066 C422,1058.5 413.5,1050.5 406.7,1041 Z" fill="#c9cdd0" stroke="#5d6266" stroke-width="1.8" stroke-linejoin="miter"/>

<!--/ARROW2-->
<!--LABELS-->
<g id="labels" stroke="#111" stroke-width="4.3" fill="none" stroke-linejoin="miter" stroke-linecap="butt">
<path d="M300,330 H359.5 L509,527"/>
<path d="M294,403 H341 L463.5,572.5"/>
<path d="M321,480 H335 L428,578"/>
<path d="M666,267 H801.5"/>
<path d="M577,345.5 H801.5"/>
<path d="M578,416 H801.5"/>
<path d="M554,496 H801.5"/>
<path d="M568,551.3 H801.5"/>
<path d="M655,707.8 H769.5"/>
<path d="M254.6,851 L294.8,890.7" stroke-width="4"/>
<path d="M445.2,824.6 L324.6,883" stroke-width="4"/>
<path d="M354.4,906.3 H494.5" stroke-width="4"/>
<path d="M406,992.5 H494" stroke-width="4"/>
<path d="M619,993.5 H730.5" stroke-width="4"/>
<path d="M243,1087 V1122" stroke-width="4"/>
<path d="M874,905 V1006" stroke-width="4"/>
</g>
<g id="boxes" stroke="#1a1a1a" stroke-width="3" fill="none">
<rect x="408" y="646.5" width="17.8" height="17.5" stroke-width="4" stroke="#111"/>
</g>
<g id="ltext" font-size="26.5" letter-spacing="1" stroke="#222" stroke-width="0.45" stroke-linejoin="round">
<text x="171" y="334.7">Bronquio</text>
<text x="171" y="369.4">secundario</text>
<text x="174" y="406">Bronquio</text>
<text x="174" y="441">terciario</text>
<text x="171" y="487">Bronquiolo</text>
<text x="171" y="523">respiratorio</text>
<text x="811" y="271.5">Cavidad</text>
<text x="811" y="306">nasal</text>
<text x="817" y="354">Faringe</text>
<text x="817" y="423.7">Laringe</text>
<text x="819" y="498.5">Traquea</text>
<text x="808.5" y="559">Bronquio</text>
<text x="808.5" y="594.5">primario</text>
<text x="784.5" y="715">Diafragma</text>
<text x="166" y="809">Vénula</text>
<text x="166" y="844">pulmonar</text>
<text x="460" y="831">Arteriola</text>
<text x="460" y="866">pulmonar</text>
<text x="507" y="913">Ducto</text>
<text x="507" y="947">alveolar</text>
<text x="502.5" y="1002.8">Alveolos</text>
<text x="797" y="890">Capilares</text>
<text x="182.5" y="1143">Saco alveolar</text>
</g>

<!--/LABELS-->
</g>
</svg>

<p class="t cap" style="left:157px;top:1199px">Figura 1: Anatomía del sistema respiratorio, mostrando vías aéreas superiores e inferiores, y la relación alveolo-</p>
<p class="t cap" style="left:157px;top:1218px">capilar.</p>
<p class="t pn" style="left:524px;top:1357px">2 / 17</p>
</body>
</html>
